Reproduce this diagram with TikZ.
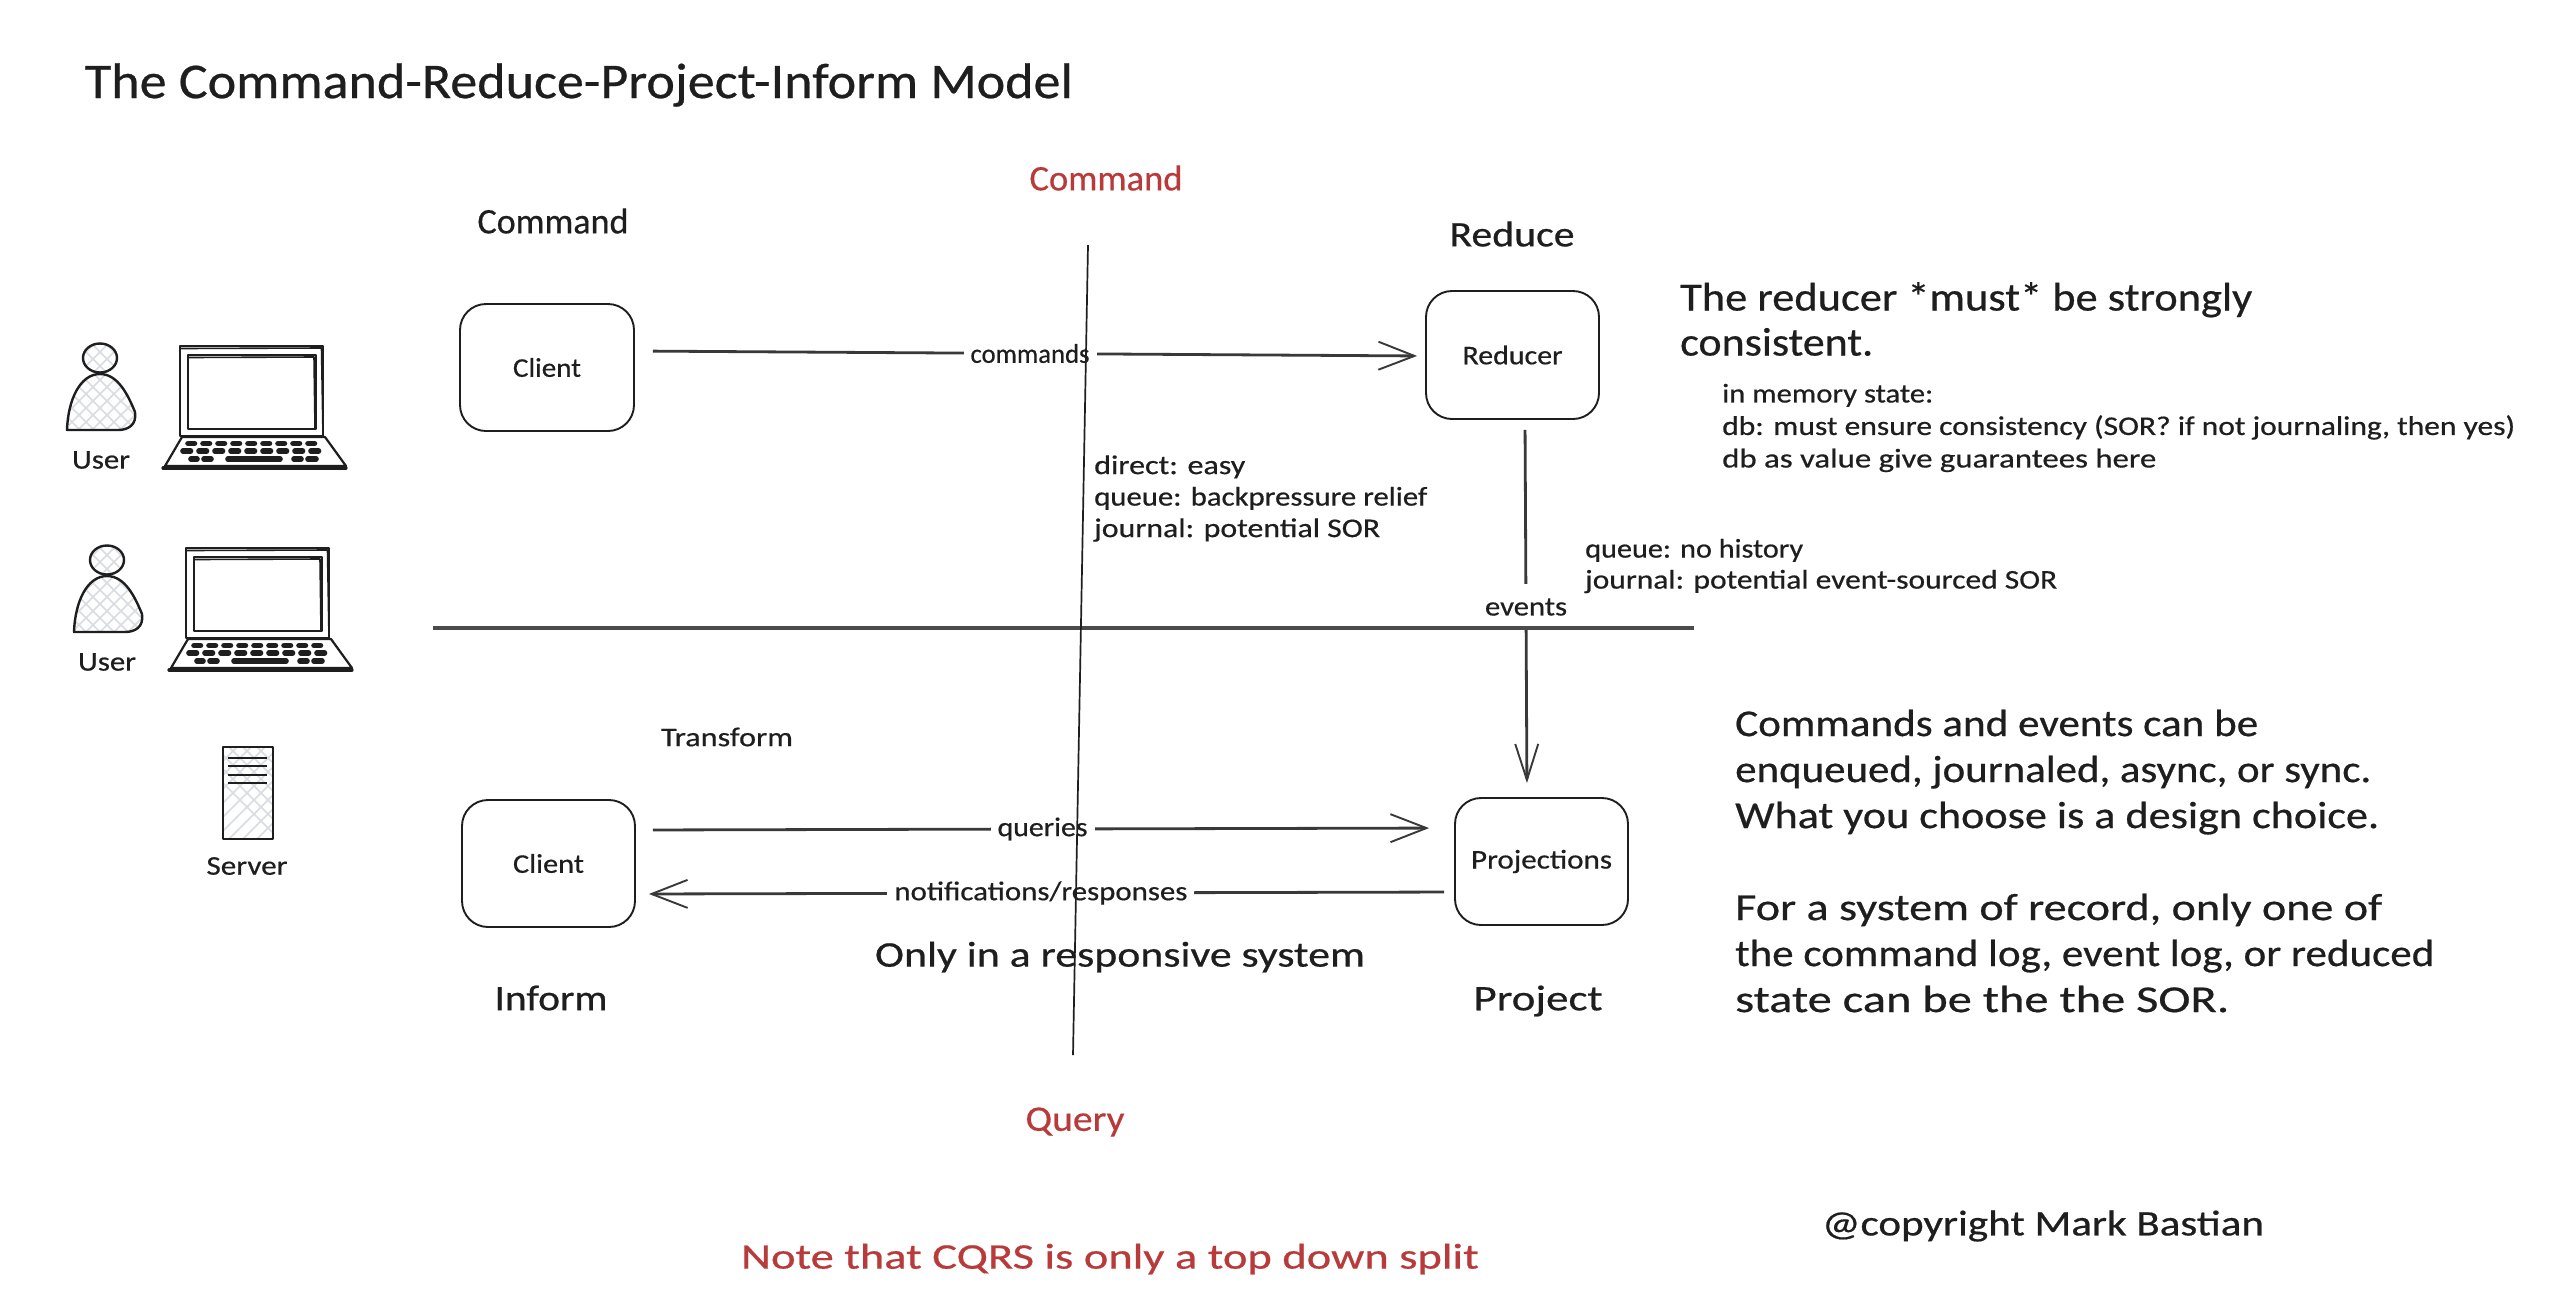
\documentclass[tikz,border=0pt]{standalone}
\usepackage{fontspec}
\usepackage{graphicx}
\setmainfont[FakeBold=0.5]{Carlito}
\usetikzlibrary{arrows.meta,calc}
\definecolor{ink}{HTML}{1E1E1E}
\definecolor{redink}{HTML}{B93A3A}
\definecolor{hatch}{HTML}{D9DDE1}
\newcommand\fw[2]{\resizebox{#1pt}{\height}{#2}}
\newcommand\fnt[2]{\fontsize{#1}{#2}\selectfont}
\newcommand\hatchfill{%
  \foreach \k in {-40,...,60}{
    \draw[hatch,line width=1.6] (\k*14,0) -- ++(1302,1302);
    \draw[hatch,line width=1.6] (\k*14+900,0) -- ++(-1302,1302);
  }}
\newcommand\usericon[2]{%
  \begin{scope}[shift={(#1,#2)}]
    \begin{scope}
      \clip (100,358) ellipse [x radius=17,y radius=14.5];
      \begin{scope}[shift={(-#1,-#2)}]\hatchfill\end{scope}
    \end{scope}
    \begin{scope}
      \clip (67,430) .. controls (68,400) and (80,374) .. (100,374) .. controls (118,374) and (128,395) .. (135,412) .. controls (137,425) and (128,430) .. (118,430) -- cycle;
      \begin{scope}[shift={(-#1,-#2)}]\hatchfill\end{scope}
    \end{scope}
    \draw[sk] (100,358) ellipse [x radius=17,y radius=14.5];
    \draw[sk] (67,430) .. controls (68,400) and (80,374) .. (100,374) .. controls (118,374) and (128,395) .. (135,412) .. controls (137,425) and (128,430) .. (118,430) -- cycle;
  \end{scope}}
\newcommand\laptopicon[2]{%
  \begin{scope}[shift={(#1,#2)}]
    \draw[sk] (180,346) rectangle (323,436);
    \draw[sk,line width=1.6] (181,348.5) -- (321.5,348) -- (323,436);
    \draw[sk] (188,355) rectangle (316,429);
    \draw[sk,line width=1.6] (189,357.5) -- (314,357) -- (315,428);
    \draw[sk,line width=2.2] (182,437) -- (325,437) -- (346,466) -- (165,466) -- cycle;
    \draw[sk,line width=3.2] (163,468) -- (346,468);
    \foreach \a in {188,203,...,310}{\draw[keyb] (\a,443.5) -- ++(6.5,0);}
    \foreach \a in {183,199,...,315}{\draw[keyb] (\a,451) -- ++(7.5,0);}
    \foreach \a/\b in {191/197,204/211,228/280,294/301,308/316}{\draw[keyb] (\a,459) -- (\b,459);}
  \end{scope}}
\tikzset{
  sk/.style={draw=ink,line width=2.4,line cap=round,line join=round},
  procbox/.style={draw=ink,line width=1.9,rounded corners=26,minimum width=174,minimum height=127,inner sep=0},
  flow/.style={draw=ink!88,line width=2.8,-{Straight Barb[length=36,width=28,line width=1.9]}},
  flowlab/.style={fill=white,inner xsep=7,inner ysep=7,text=ink},
  axis/.style={draw=ink,line width=1.7},
  hline/.style={draw=ink!80,line width=3.2},
  lab/.style={text=ink,inner sep=0,font=\fnt{27}{32}},
  head/.style={text=ink,inner sep=0,font=\fnt{36}{43}},
  redh/.style={text=redink,inner sep=0,font=\fnt{36}{43}},
  para/.style={text=ink,inner sep=0,anchor=west,align=left},
  keyb/.style={draw=ink,line width=5.6,line cap=round}
}
\begin{document}
\begin{tikzpicture}[x=1pt,y=-1pt]
\useasboundingbox (0,0) rectangle (2550,1302);
\fill[white] (0,0) rectangle (2550,1302);

% title and headings
\node[text=ink,inner sep=0,font=\fnt{50}{60}] (title) at (579,85) {\fw{988}{The Command-Reduce-Project-Inform Model}};
\node[redh] (cmdred) at (1106,178) {\fw{153}{Command}};
\node[head] (cmdh) at (553,221) {\fw{151}{Command}};
\node[head] (redh) at (1512,234) {\fw{125}{Reduce}};
\node[head] (infh) at (551,998) {\fw{113}{Inform}};
\node[head] (projh) at (1538,1001) {\fw{129}{Project}};
\node[redh] (qryred) at (1075,1122) {\fw{99}{Query}};
\node[redh] (note) at (1110,1259) {\fw{738}{Note that CQRS is only a top down split}};
\node[head] (copy) at (2043,1226) {\fw{442}{@copyright Mark Bastian}};
\node[head] (only) at (1120,957) {\fw{490}{Only in a responsive system}};
\node[lab] (transform) at (727,737) {\fw{132}{Transform}};

% icons
\usericon{0}{0}
\laptopicon{0}{0}
\usericon{7}{202}
\laptopicon{6}{202}
\node[lab] (user1) at (101,460) {\fw{58}{User}};
\node[lab] (user2) at (107,662) {\fw{58}{User}};
\begin{scope}
  \clip (223,747) rectangle (273,839);
  \hatchfill
\end{scope}
\draw[sk] (223,747) rectangle (273,839);
\foreach \yy in {758,766,775,783}{\draw[draw=ink,line width=1.8] (228,\yy) -- (267,\yy);}
\node[lab] (server) at (247,866) {\fw{81}{Server}};

% boxes
\node[procbox,lab,minimum width=174,minimum height=127] (client1) at (547,367.5) {\fw{68}{Client}};
\node[procbox,lab,minimum width=173,minimum height=128] (reducer) at (1512.5,355) {\fw{100}{Reducer}};
\node[procbox,lab,minimum width=173,minimum height=127] (client2) at (548.5,863.5) {\fw{71}{Client}};
\node[procbox,lab,minimum width=173,minimum height=127] (proj) at (1541.5,861.5) {\fw{141}{Projections}};

% connectors
\draw[flow,shorten <=18,shorten >=8] ([yshift=16.5]client1.east) -- node[pos=.5,flowlab,font=\fnt{27}{32}] {\fw{119}{commands}} ([yshift=-1]reducer.west);
\draw[flow,-{Straight Barb[length=36,width=23,line width=1.9]},shorten <=10,shorten >=14] ([xshift=12.5]reducer.south) -- node[pos=.496,fill=white,inner xsep=6,inner ysep=0,minimum height=46,text=ink,font=\fnt{27}{32}] {\fw{82}{events}} ([xshift=-14.5]proj.north);
\draw[flow,shorten <=17,shorten >=25] ([yshift=33.5]client2.east) -- node[pos=.497,flowlab,font=\fnt{27}{32}] {\fw{90}{queries}} ([yshift=33.5]proj.west);
\draw[flow,shorten <=10,shorten >=13] ([yshift=-30.5]proj.west) -- node[pos=.505,flowlab,font=\fnt{27}{32}] {\fw{293}{notifications/responses}} ([yshift=-30.5]client2.east);

% free text
\node[para,font=\fnt{40}{45}] (reducertext) at (1680,319) {\fw{572}{The reducer *must* be strongly}\\\fw{193}{consistent.}};
\node[para,font=\fnt{27}{32.5}] (memtext) at (1722,428) {\fw{211}{in memory state:}\\\fw{793}{db: must ensure consistency (SOR? if not journaling, then yes)}\\\fw{434}{db as value give guarantees here}};
\node[para,font=\fnt{27}{31}] (queuetext) at (1585,566) {\fw{218}{queue: no history}\\\fw{472}{journal: potential event-sourced SOR}};
\node[para,font=\fnt{27}{31.5}] (directtext) at (1094,498.5) {\fw{151}{direct: easy}\\\fw{333}{queue: backpressure relief}\\\fw{286}{journal: potential SOR}};
\node[para,font=\fnt{38}{46}] (choicetext) at (1735,861) {\fw{523}{Commands and events can be}\\\fw{636}{enqueued, journaled, async, or sync.}\\\fw{644}{What you choose is a design choice.}\\[46pt]\fw{647}{For a system of record, only one of}\\\fw{699}{the command log, event log, or reduced}\\\fw{494}{state can be the the SOR.}};

% quadrant axes
\coordinate (axtop) at (1088,245);
\coordinate (axbot) at (1073,1055);
\coordinate (axleft) at (433,628);
\coordinate (axright) at (1694,628);
\draw[hline] (axleft) -- (axright);
\draw[axis] (axtop) -- (axbot);
\end{tikzpicture}
\end{document}
